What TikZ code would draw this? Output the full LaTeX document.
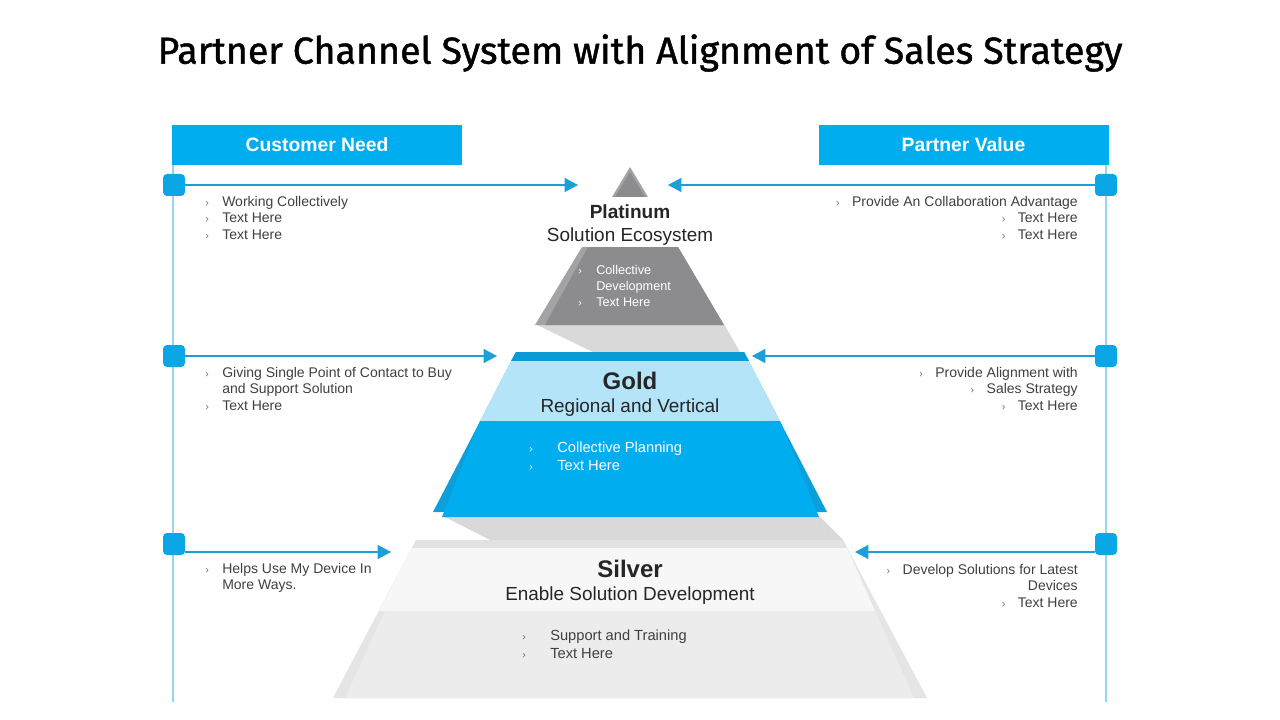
\documentclass[tikz,border=0pt]{standalone}
\usepackage{fontspec}
\setmainfont{Liberation Sans}
\newfontfamily\titlefont[FakeBold=1.2]{Fira Sans}
\usepackage{tikz}
\usetikzlibrary{arrows.meta}
\usetikzlibrary{positioning}

\definecolor{barblue}{HTML}{00AEEF}
\definecolor{markblue}{HTML}{0BA6E6}
\definecolor{lineblue}{HTML}{1C9FD6}
\definecolor{vlineblue}{HTML}{9AD5EE}
\definecolor{txtgray}{HTML}{404040}
\definecolor{bulgray}{HTML}{707070}
\definecolor{headgray}{HTML}{262626}
\definecolor{platdark}{HTML}{8C8C8E}
\definecolor{platlight}{HTML}{A3A3A5}
\definecolor{shadowgray}{HTML}{D9D9D9}
\definecolor{golddark}{HTML}{0A9AD6}
\definecolor{goldlight}{HTML}{B3E4F7}
\definecolor{goldedge}{HTML}{0C9FDA}
\definecolor{silvtop}{HTML}{E2E2E2}
\definecolor{silvband}{HTML}{F7F7F7}
\definecolor{silvmain}{HTML}{ECECEC}
\definecolor{silvedge}{HTML}{E5E5E5}

\newcommand{\bul}[2][bulgray]{\makebox[#2][l]{\footnotesize\textcolor{#1}{›}}}

\begin{document}
\begin{tikzpicture}[x=0.75pt,y=-0.75pt,
	header/.style={fill=barblue, text=white, font=\bfseries\fontsize{14.5}{16}\selectfont, minimum width=217.5pt, minimum height=30pt, inner sep=0pt},
	marker/.style={fill=markblue, rounded corners=3pt, minimum size=16.5pt, inner sep=0pt},
	link/.style={draw=lineblue, line width=0.8pt, -{Triangle[length=10pt,width=10.5pt]}},
	vline/.style={draw=vlineblue, line width=0.8pt},
	side/.style={text=txtgray, font=\fontsize{10.5}{12.4}\selectfont, inner sep=0pt},
	tiername/.style={text=headgray, font=\bfseries\fontsize{18}{20}\selectfont, inner sep=0pt},
	tiersub/.style={text=headgray, font=\fontsize{14.2}{16}\selectfont, inner sep=0pt}]
	\useasboundingbox (0,0) rectangle (1280,720);
	\fill[white] (0,0) rectangle (1280,720);

	\node[font=\titlefont\fontsize{28.2}{31}\selectfont, text=black] (title) at (640,53) {Partner Channel System with Alignment of Sales Strategy};

	% pyramid
	\fill[platlight] (630,167) -- (648,197) -- (612,197) -- cycle;
	\fill[platdark] (630,172) -- (645,197) -- (615,197) -- cycle;
	\fill[shadowgray] (535,324) -- (724,324) -- (740,352) -- (593,352) -- cycle;
	\fill[platlight] (582,247) -- (678,247) -- (724,325) -- (535,325) -- cycle;
	\fill[platdark] (588,247) -- (678,247) -- (724,325) -- (545,325) -- cycle;

	\fill[shadowgray] (443,516) -- (819,516) -- (843,540) -- (490,540) -- cycle;
	\fill[goldedge] (516,352) -- (744,352) -- (827,512) -- (433,512) -- cycle;
	\fill[golddark] (516,352) -- (744,352) -- (749,361) -- (511,361) -- cycle;
	\fill[goldlight] (511,361) -- (749,361) -- (780,421) -- (480,421) -- cycle;
	\fill[barblue] (480,421) -- (780,421) -- (819,517) -- (442,517) -- cycle;

	\fill[silvedge] (416,540) -- (843,540) -- (927,698) -- (333,698) -- cycle;
	\fill[silvtop] (416,540) -- (843,540) -- (847,548) -- (412,548) -- cycle;
	\fill[silvband] (412,548) -- (847,548) -- (875,611) -- (379,611) -- cycle;
	\fill[silvmain] (385,611) -- (875,611) -- (914,698) -- (345,698) -- cycle;

	% tier labels
	\node[tiername, font=\bfseries\fontsize{14.3}{16}\selectfont] (plat) at (630,212) {Platinum};
	\node[tiersub] (platsub) at (630,237) {Solution Ecosystem};
	\node[tiername] (gold) at (630,381) {Gold};
	\node[tiersub] (goldsub) at (630,408) {Regional and Vertical};
	\node[tiername] (silv) at (630,569) {Silver};
	\node[tiersub] (silvsub) at (630,596) {Enable Solution Development};

	\node[side, anchor=north west, align=left, text=white, font=\fontsize{9.5}{12}\selectfont] (platlist) at (578,265) {\bul[white]{13.5pt}Collective\\\hspace*{13.5pt}Development\\\bul[white]{13.5pt}Text Here};
	\node[side, anchor=north west, align=left, text=white, font=\fontsize{11}{13.5}\selectfont] (goldlist) at (529,442) {\bul[white]{21pt}Collective Planning\\\bul[white]{21pt}Text Here};
	\node[side, anchor=north west, align=left, font=\fontsize{11}{13.5}\selectfont] (silvlist) at (522,630) {\bul{21pt}Support and Training\\\bul{21pt}Text Here};

	% headers and side rails
	\node[header] (need) at (317,145) {Customer Need};
	\node[header] (value) at (963.5,145) {Partner Value};
	\coordinate (lbot) at (173,702);
	\coordinate (rbot) at (1106,702);
	\draw[vline] (need.south -| lbot) -- (lbot);
	\draw[vline] (value.south -| rbot) -- (rbot);

	\foreach \n/\y in {1/185,2/356,3/544} {
		\node[marker] (l\n) at (174,\y) {};
		\node[marker] (r\n) at (1106,\y) {};
	}

	\coordinate (tl1) at (578,185);
	\coordinate (tr1) at (668,185);
	\coordinate (tl2) at (497,356);
	\coordinate (tr2) at (752,356);
	\coordinate (tl3) at (391,552);
	\coordinate (tr3) at (855,552);
	\draw[link] (l1) -- (tl1);
	\draw[link] (r1) -- (tr1);
	\draw[link] (l2) -- (tl2);
	\draw[link] (r2) -- (tr2);
	\draw[link] (l3.east |- tl3) -- (tl3);
	\draw[link] (r3.west |- tr3) -- (tr3);

	% side texts
	\node[side, anchor=north west, align=left] (need1) at (205,196) {\bul{12.75pt}Working Collectively\\\bul{12.75pt}Text Here\\\bul{12.75pt}Text Here};
	\node[side, anchor=north west, align=left] (need2) at (205,367) {\bul{12.75pt}Giving Single Point of Contact to Buy\\\hspace*{12.75pt}and Support Solution\\\bul{12.75pt}Text Here};
	\node[side, anchor=north west, align=left] (need3) at (205,563) {\bul{12.75pt}Helps Use My Device In\\\hspace*{12.75pt}More Ways.};

	\node[side, anchor=north east, align=right] (value1) at (1078,196) {\bul{12pt}Provide An Collaboration Advantage\\\bul{12pt}Text Here\\\bul{12pt}Text Here};
	\node[side, anchor=north east, align=right] (value2) at (1078,367) {\bul{12pt}Provide Alignment with\\\bul{12pt}Sales Strategy\\\bul{12pt}Text Here};
	\node[side, anchor=north east, align=right] (value3) at (1078,564) {\bul{12pt}Develop Solutions for Latest\\Devices\\\bul{12pt}Text Here};
\end{tikzpicture}
\end{document}
